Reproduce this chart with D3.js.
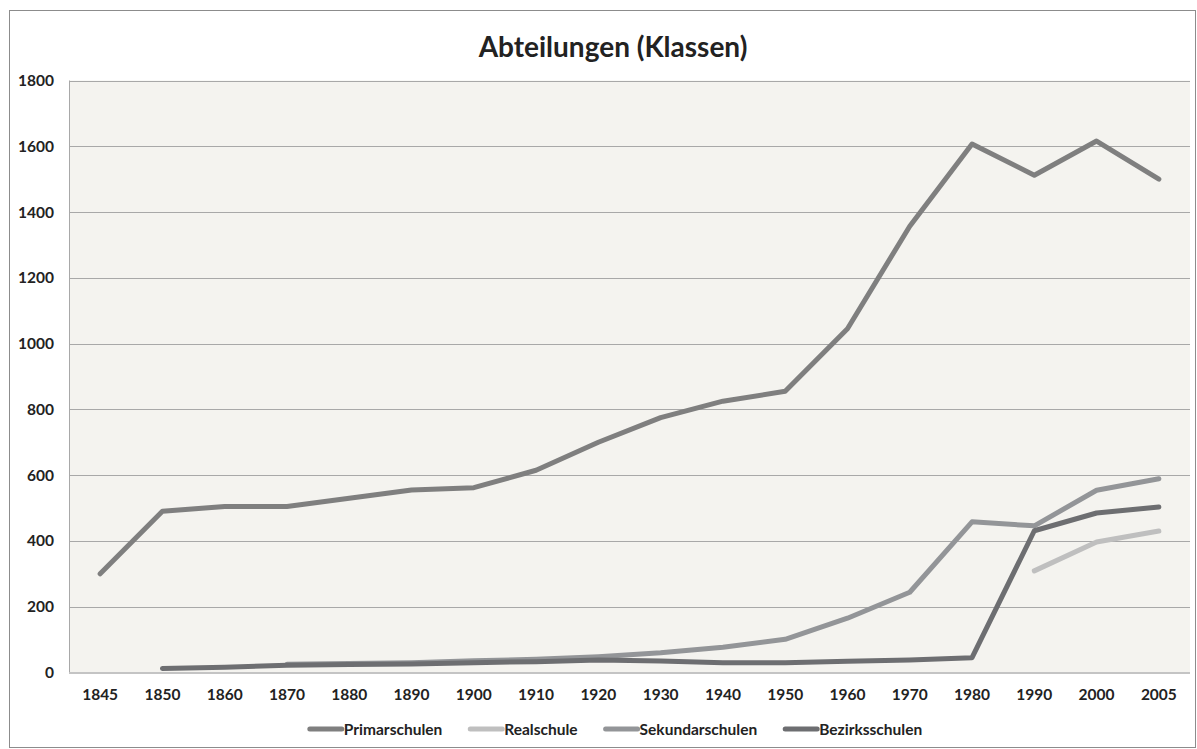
<!DOCTYPE html>
<html lang="de">
<head>
  <meta charset="utf-8">
  <title>Abteilungen (Klassen)</title>
  <style>
    body {
      margin:0;
      background-color:#fff;
    }
    svg text {
      font-family:Lato, "Open Sans", sans-serif;
      font-weight:bold;
      fill:#222;
    }
    .grid line {
      stroke:#a8a8a8;
      stroke-width:1px;
    }
    .series {
      fill:none;
      stroke-width:5px;
      stroke-linecap:round;
      stroke-linejoin:round;
    }
  </style>
</head>
<body>
  <div id="chart"></div>
  <script src="https://d3js.org/d3.v7.min.js"></script>
  <script>
    var years = ["1845","1850","1860","1870","1880","1890","1900","1910","1920","1930","1940","1950","1960","1970","1980","1990","2000","2005"];
    var yTicks = [0,200,400,600,800,1000,1200,1400,1600,1800];

    var primarschulen   = [300,490,505,505,530,555,562,615,700,775,825,855,1045,1357,1607,1512,1616,1500];
    var realschule      = [null,null,null,null,null,null,null,null,null,null,null,null,null,null,null,309,397,430];
    var sekundarschulen = [null,null,null,25,27,30,36,40,48,60,77,101,165,244,458,446,554,589];
    var bezirksschulen  = [null,12,16,22,24,26,30,33,38,35,30,30,34,38,45,431,485,503];

    var seriesNames  = ["Primarschulen","Realschule","Sekundarschulen","Bezirksschulen"];
    var seriesValues = [primarschulen, realschule, sekundarschulen, bezirksschulen];
    var seriesColors = ["#7f7f7f","#bfbfbf","#939598","#6d6e71"];

    var width = 1197, height = 749;
    var plotLeft = 69, plotRight = 1190, plotTop = 80.5, plotBottom = 672.5;

    var svg = d3.select("#chart").append("svg")
        .attr("width", width)
        .attr("height", height);

    // outer frame
    svg.append("rect")
        .attr("x", 9.5).attr("y", 10.5)
        .attr("width", 1186).attr("height", 737)
        .attr("fill", "#fff")
        .attr("stroke", "#8c8c8c");

    svg.append("text")
        .attr("x", 613).attr("y", 57)
        .attr("text-anchor", "middle")
        .style("font-size", "28px")
        .text("Abteilungen (Klassen)");

    var x = d3.scaleBand().domain(years).range([plotLeft, plotRight]);
    var y = d3.scaleLinear().domain([0, 1800]).range([plotBottom, plotTop]);

    // plot background
    svg.append("rect")
        .attr("x", plotLeft).attr("y", plotTop)
        .attr("width", plotRight - plotLeft).attr("height", plotBottom - plotTop)
        .attr("fill", "#f4f3ef");

    var grid = svg.append("g").attr("class", "grid");
    grid.selectAll("line").data(yTicks.slice(1)).enter().append("line")
        .attr("x1", plotLeft).attr("x2", plotRight)
        .attr("y1", function(d){ return Math.round(y(d)) + 0.5; })
        .attr("y2", function(d){ return Math.round(y(d)) + 0.5; });

    // axis lines
    svg.append("line")
        .attr("x1", plotLeft + 0.5).attr("x2", plotLeft + 0.5)
        .attr("y1", plotTop).attr("y2", plotBottom)
        .attr("stroke", "#a8a8a8");
    svg.append("line")
        .attr("x1", plotLeft).attr("x2", plotRight)
        .attr("y1", plotBottom + 0.5).attr("y2", plotBottom + 0.5)
        .attr("stroke", "#c4c4c4").attr("stroke-width", 2);

    // y axis labels
    var yAxis = d3.axisLeft(y).tickValues(yTicks).tickFormat(d3.format("d")).tickSize(0).tickPadding(15);
    svg.append("g")
        .attr("transform", "translate(" + plotLeft + ",0)")
        .call(yAxis)
        .call(function(g){ g.select(".domain").remove(); })
        .selectAll("text")
        .style("font-size", "15.5px")
        .style("font-family", "Lato, sans-serif");

    // x axis labels
    var xAxis = d3.axisBottom(x).tickSize(0).tickPadding(16);
    svg.append("g")
        .attr("transform", "translate(0," + plotBottom + ")")
        .call(xAxis)
        .call(function(g){ g.select(".domain").remove(); })
        .selectAll("text")
        .style("font-size", "15.5px")
        .style("font-family", "Lato, sans-serif");

    var line = d3.line()
        .defined(function(d){ return d != null; })
        .x(function(d, i){ return x(years[i]) + x.bandwidth() / 2; })
        .y(function(d){ return y(d); });

    svg.selectAll("path.series").data(seriesValues).enter().append("path")
        .attr("class", "series")
        .attr("stroke", function(d, i){ return seriesColors[i]; })
        .attr("d", line);

    // legend
    var legend = svg.append("g");
    var lx = 0;
    seriesNames.forEach(function(name, i){
      var item = legend.append("g").attr("transform", "translate(" + lx + ",0)");
      item.append("line")
          .attr("x1", 2).attr("x2", 34)
          .attr("y1", 0).attr("y2", 0)
          .attr("stroke", seriesColors[i])
          .attr("stroke-width", 5)
          .attr("stroke-linecap", "round");
      var t = item.append("text")
          .attr("x", 36).attr("y", 5.5)
          .style("font-size", "15.5px")
          .text(name);
      lx += 36 + t.node().getComputedTextLength() + 26;
    });
    var legendWidth = lx - 26;
    legend.attr("transform", "translate(" + (615 - legendWidth / 2) + ",729)");
  </script>
</body>
</html>
